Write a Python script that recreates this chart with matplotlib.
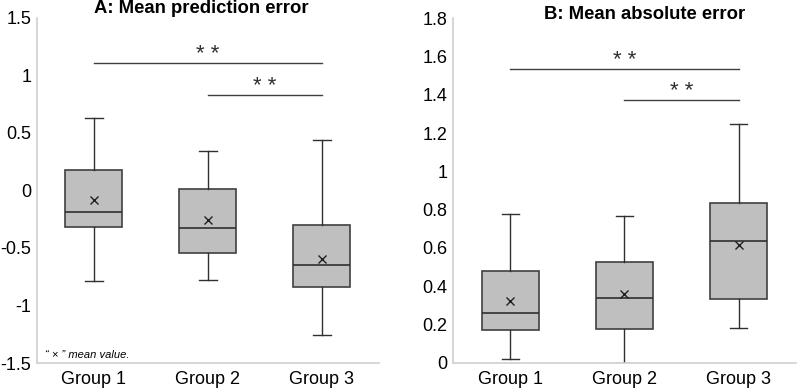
import matplotlib
matplotlib.use("Agg")
import matplotlib.pyplot as plt

plt.rcParams['font.family'] = ['Liberation Sans', 'DejaVu Sans']

groups = ["Group 1", "Group 2", "Group 3"]

# panel A: mean prediction error
a_whislo = [-0.785, -0.78, -1.255]
a_q1 = [-0.32, -0.54, -0.84]
a_med = [-0.185, -0.33, -0.65]
a_q3 = [0.18, 0.01, -0.30]
a_whishi = [0.63, 0.34, 0.44]
a_mean = [-0.08, -0.26, -0.60]

# panel B: mean absolute error
b_whislo = [0.02, 0.0, 0.18]
b_q1 = [0.17, 0.174, 0.334]
b_med = [0.26, 0.34, 0.636]
b_q3 = [0.48, 0.528, 0.836]
b_whishi = [0.777, 0.768, 1.247]
b_mean = [0.32, 0.357, 0.615]

# significance bars: (from group, to group, height)
a_sig = [(1, 3, 1.11), (2, 3, 0.83)]
b_sig = [(1, 3, 1.534), (2, 3, 1.372)]


def make_stats(lo, q1, med, q3, hi, mean):
    out = []
    for i in range(len(lo)):
        out.append(dict(whislo=lo[i], q1=q1[i], med=med[i], q3=q3[i],
                        whishi=hi[i], mean=mean[i], fliers=[]))
    return out


def draw(ax, stats, sig, ylim, yticks, yticklabels):
    ax.bxp(stats, positions=[1, 2, 3], widths=0.5, patch_artist=True,
           showmeans=True, showfliers=False, capwidths=0.15,
           boxprops=dict(facecolor="#bfbfbf", edgecolor="#404040", linewidth=1.2),
           medianprops=dict(color="#303030", linewidth=1.2),
           whiskerprops=dict(color="#303030", linewidth=1.0),
           capprops=dict(color="#303030", linewidth=1.0),
           meanprops=dict(marker="x", markeredgecolor="#202020",
                          markersize=5.5, markeredgewidth=1.0))
    rng = ylim[1] - ylim[0]
    for g0, g1, h in sig:
        ax.plot([g0, g1], [h, h], color="#404040", lw=1.0)
        ax.text((g0 + g1) / 2, h + rng * 0.024, "* *",
                ha="center", va="center", fontsize=16, color="#303030")
    ax.set_xlim(0.5, 3.5)
    ax.set_ylim(*ylim)
    ax.set_yticks(yticks)
    ax.set_yticklabels(yticklabels)
    ax.set_xticks([1, 2, 3])
    ax.set_xticklabels(groups)
    ax.tick_params(length=0, labelsize=13, pad=4)
    ax.tick_params(axis="x", pad=6)
    for s in ["top", "right"]:
        ax.spines[s].set_visible(False)
    for s in ["left", "bottom"]:
        ax.spines[s].set_color("#d0d0d0")
        ax.spines[s].set_linewidth(1.2)


fig = plt.figure(figsize=(7.97, 3.91), dpi=100)
ax1 = fig.add_axes([0.0464, 0.0716, 0.4291, 0.8824])
ax2 = fig.add_axes([0.5684, 0.0724, 0.4303, 0.8806])

draw(ax1, make_stats(a_whislo, a_q1, a_med, a_q3, a_whishi, a_mean), a_sig,
     (-1.5, 1.5), [-1.5, -1, -0.5, 0, 0.5, 1, 1.5],
     ["-1.5", "-1", "-0.5", "0", "0.5", "1", "1.5"])
draw(ax2, make_stats(b_whislo, b_q1, b_med, b_q3, b_whishi, b_mean), b_sig,
     (0, 1.8), [0, 0.2, 0.4, 0.6, 0.8, 1, 1.2, 1.4, 1.6, 1.8],
     ["0", "0.2", "0.4", "0.6", "0.8", "1", "1.2", "1.4", "1.6", "1.8"])

fig.text(0.252, 0.978, "A: Mean prediction error", ha="center", va="center",
         fontsize=13.3, fontweight="bold")
fig.text(0.809, 0.962, "B: Mean absolute error", ha="center", va="center",
         fontsize=13.3, fontweight="bold")
ax1.text(0.024, 0.01, "\u201c \u00d7 \u201d mean value.", transform=ax1.transAxes,
         fontsize=8, style="italic", ha="left", va="bottom")

fig.savefig("out.png", dpi=100)
